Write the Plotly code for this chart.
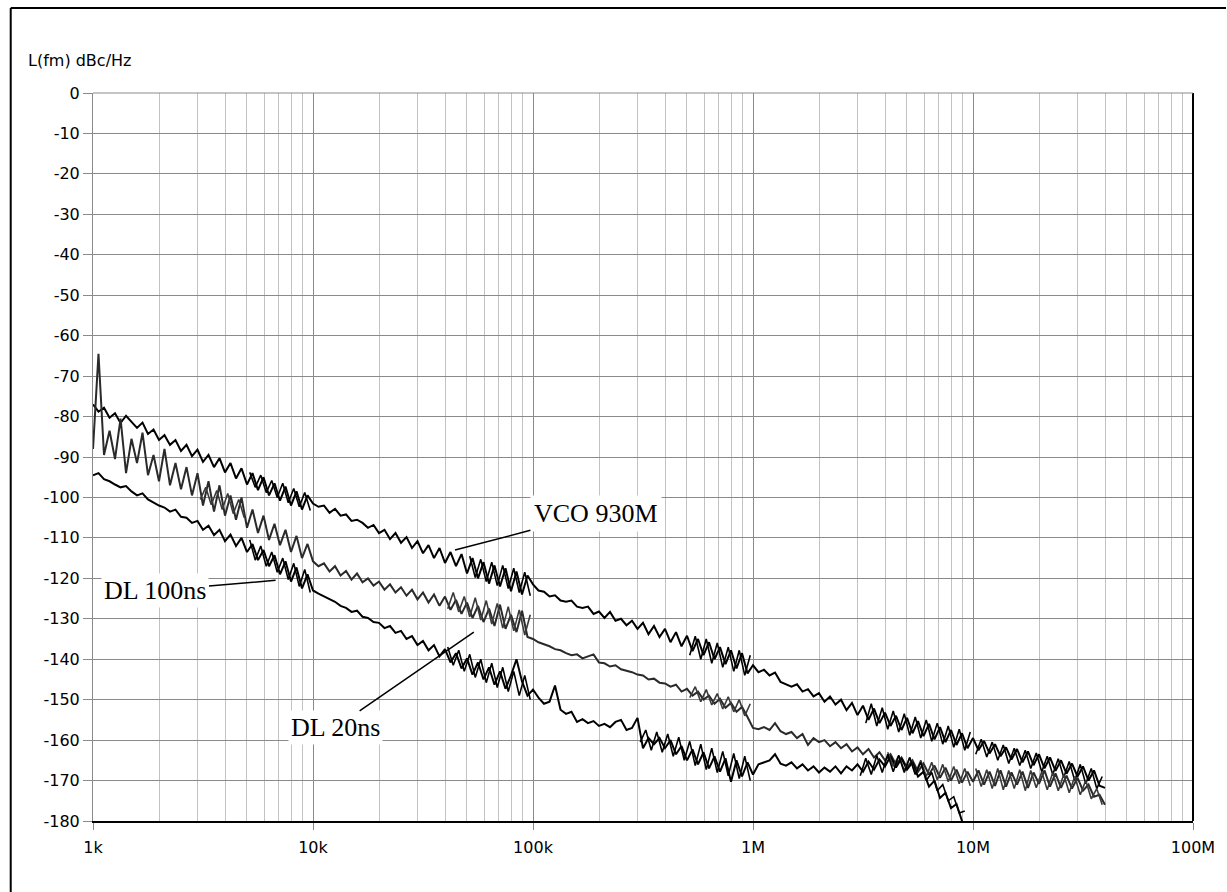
import plotly.graph_objects as go

# ---- data (frequency offset in kHz, phase noise in dBc/Hz) ----
freq_khz = [
    1.000, 1.059, 1.122, 1.189, 1.259, 1.334, 1.413, 1.496, 1.585, 1.679,
    1.778, 1.884, 1.995, 2.113, 2.239, 2.371, 2.512, 2.661, 2.818, 2.985,
    3.162, 3.350, 3.548, 3.758, 3.981, 4.217, 4.467, 4.732, 5.012, 5.309,
    5.623, 5.957, 6.310, 6.683, 7.079, 7.499, 7.943, 8.414, 8.913, 9.441,
    10.00, 10.59, 11.22, 11.89, 12.59, 13.34, 14.13, 14.96, 15.85, 16.79,
    17.78, 18.84, 19.95, 21.13, 22.39, 23.71, 25.12, 26.61, 28.18, 29.85,
    31.62, 33.50, 35.48, 37.58, 39.81, 42.17, 44.67, 47.32, 50.12, 53.09,
    56.23, 59.57, 63.10, 66.83, 70.79, 74.99, 79.43, 84.14, 89.13, 94.41,
    100.0, 105.9, 112.2, 118.9, 125.9, 133.4, 141.3, 149.6, 158.5, 167.9,
    177.8, 188.4, 199.5, 211.3, 223.9, 237.1, 251.2, 266.1, 281.8, 298.5,
    316.2, 335.0, 354.8, 375.8, 398.1, 421.7, 446.7, 473.2, 501.2, 530.9,
    562.3, 595.7, 631.0, 668.3, 707.9, 749.9, 794.3, 841.4, 891.3, 944.1,
    1000, 1059, 1122, 1189, 1259, 1334, 1413, 1496, 1585, 1679,
    1778, 1884, 1995, 2113, 2239, 2371, 2512, 2661, 2818, 2985,
    3162, 3350, 3548, 3758, 3981, 4217, 4467, 4732, 5012, 5309,
    5623, 5957, 6310, 6683, 7079, 7499, 7943, 8414, 8913, 9441,
    10000, 10590, 11220, 11890, 12590, 13340, 14130, 14960, 15850, 16790,
    17780, 18840, 19950, 21130, 22390, 23710, 25120, 26610, 28180, 29850,
    31620, 33500, 35480, 37580, 39810,
]

# in-between sweep points (used where the traces are densely noisy)
mid_khz = [
    1.029, 1.090, 1.155, 1.223, 1.296, 1.373, 1.454, 1.540, 1.631, 1.728,
    1.830, 1.939, 2.054, 2.175, 2.304, 2.441, 2.585, 2.738, 2.901, 3.073,
    3.255, 3.448, 3.652, 3.868, 4.097, 4.340, 4.597, 4.870, 5.158, 5.464,
    5.788, 6.131, 6.494, 6.879, 7.286, 7.718, 8.175, 8.660, 9.173, 9.716,
    10.29, 10.90, 11.55, 12.23, 12.96, 13.73, 14.54, 15.40, 16.31, 17.28,
    18.30, 19.39, 20.54, 21.75, 23.04, 24.41, 25.85, 27.38, 29.01, 30.73,
    32.55, 34.48, 36.52, 38.68, 40.97, 43.40, 45.97, 48.70, 51.58, 54.64,
    57.88, 61.31, 64.94, 68.79, 72.86, 77.18, 81.75, 86.60, 91.73, 97.16,
    102.9, 109.0, 115.5, 122.3, 129.6, 137.3, 145.4, 154.0, 163.1, 172.8,
    183.0, 193.9, 205.4, 217.5, 230.4, 244.1, 258.5, 273.8, 290.1, 307.3,
    325.5, 344.8, 365.2, 386.8, 409.7, 434.0, 459.7, 487.0, 515.8, 546.4,
    578.8, 613.1, 649.4, 687.9, 728.6, 771.8, 817.5, 866.0, 917.3, 971.6,
    1029, 1090, 1155, 1223, 1296, 1373, 1454, 1540, 1631, 1728,
    1830, 1939, 2054, 2175, 2304, 2441, 2585, 2738, 2901, 3073,
    3255, 3448, 3652, 3868, 4097, 4340, 4597, 4870, 5158, 5464,
    5788, 6131, 6494, 6879, 7286, 7718, 8175, 8660, 9173, 9716,
    10290, 10900, 11550, 12230, 12960, 13730, 14540, 15400, 16310, 17280,
    18300, 19390, 20540, 21750, 23040, 24410, 25850, 27380, 29010, 30730,
    32550, 34480, 36520, 38680,
]

vco_930m = [
    -77.0, -78.8, -77.8, -80.3, -79.2, -81.6, -79.8, -81.2, -82.8, -81.5,
    -84.3, -83.2, -85.8, -84.6, -87.0, -85.8, -88.5, -87.0, -89.8, -88.2,
    -91.2, -89.5, -92.5, -90.3, -93.8, -91.5, -95.3, -92.8, -96.8, -94.0,
    -98.2, -95.0, -99.5, -96.5, -100.8, -97.3, -102.0, -98.5, -103.0, -99.5,
    -101.5, -102.3, -102.0, -103.8, -102.8, -104.5, -104.2, -105.8, -105.5, -106.3,
    -107.5, -106.8, -108.8, -108.0, -110.3, -108.8, -111.2, -109.8, -112.5, -110.8,
    -113.8, -111.8, -115.0, -112.5, -116.2, -113.5, -117.0, -114.0, -118.8, -115.0,
    -120.0, -116.0, -121.3, -116.8, -122.0, -117.5, -123.2, -118.3, -124.0, -119.3,
    -121.5, -123.0, -123.3, -124.5, -124.2, -125.5, -125.8, -125.5, -127.0, -127.3,
    -127.0, -128.8, -128.2, -129.8, -128.3, -130.5, -130.0, -131.6, -130.5, -132.5,
    -131.0, -133.8, -131.8, -134.5, -132.5, -135.8, -133.3, -136.8, -134.2, -138.0,
    -135.0, -139.0, -135.8, -140.0, -137.0, -141.2, -137.8, -142.3, -138.5, -143.5,
    -141.5, -143.2, -142.6, -144.0, -143.3, -145.6, -146.2, -146.8, -146.2, -148.0,
    -147.4, -149.2, -148.4, -150.5, -149.2, -151.2, -150.0, -152.6, -150.8, -153.8,
    -151.5, -155.0, -152.2, -155.8, -153.2, -156.5, -154.0, -157.5, -154.5, -158.3,
    -155.3, -159.0, -156.0, -159.8, -156.8, -160.5, -157.5, -161.2, -158.3, -162.0,
    -159.5, -162.5, -160.2, -163.3, -161.0, -164.0, -161.8, -164.8, -162.2, -165.5,
    -162.8, -166.2, -163.5, -167.0, -164.3, -167.6, -165.0, -168.3, -165.8, -169.0,
    -166.5, -170.0, -167.5, -171.3, -171.8,
]

dl_20ns = [
    -88.0, -64.5, -89.5, -83.5, -90.5, -80.5, -94.0, -85.5, -91.5, -84.0,
    -94.5, -89.5, -96.0, -88.0, -97.0, -91.5, -98.0, -92.5, -99.5, -94.0,
    -102.0, -96.0, -103.5, -97.0, -104.5, -99.5, -105.5, -100.0, -107.5, -103.0,
    -108.8, -104.5, -110.5, -106.5, -111.8, -108.0, -113.5, -109.5, -115.0, -111.5,
    -115.8, -117.0, -116.3, -118.3, -117.0, -119.3, -118.2, -120.3, -118.8, -121.0,
    -120.0, -121.8, -120.8, -122.8, -121.5, -123.5, -122.2, -124.3, -122.8, -125.2,
    -123.5, -126.0, -124.0, -126.8, -124.5, -127.8, -125.3, -128.8, -126.0, -129.8,
    -126.8, -130.8, -127.5, -131.8, -126.5, -132.5, -129.0, -133.3, -128.0, -134.5,
    -135.0, -135.8, -136.3, -136.8, -137.5, -137.8, -138.5, -139.0, -138.8, -139.8,
    -139.3, -138.8, -140.8, -141.0, -141.8, -141.5, -142.5, -142.8, -143.2, -143.8,
    -144.0, -145.0, -144.8, -145.8, -146.0, -146.8, -146.3, -148.0, -147.3, -149.0,
    -148.0, -150.0, -149.0, -151.0, -149.8, -152.0, -150.8, -153.0, -151.8, -154.3,
    -157.0, -157.3, -156.8, -157.5, -155.8, -157.8, -158.5, -158.0, -159.5, -158.5,
    -161.2, -159.5, -160.5, -160.0, -161.5, -160.5, -162.0, -161.0, -162.8, -161.8,
    -163.5, -162.2, -164.3, -163.0, -165.0, -163.5, -166.0, -164.3, -166.8, -165.0,
    -167.8, -165.8, -168.5, -166.3, -169.3, -166.8, -170.0, -167.3, -170.5, -167.8,
    -170.3, -167.5, -171.0, -167.8, -171.3, -167.5, -171.5, -168.0, -171.0, -167.8,
    -171.8, -168.0, -170.8, -167.5, -171.5, -168.2, -171.8, -168.8, -172.0, -169.3,
    -172.5, -171.0, -174.0, -173.5, -176.0,
]

dl_100ns = [
    -94.5, -94.0, -95.5, -96.0, -96.8, -97.5, -97.2, -98.5, -99.5, -99.0,
    -100.5, -101.3, -102.0, -102.5, -103.5, -103.0, -104.8, -105.0, -106.3, -105.8,
    -108.0, -107.0, -109.3, -108.0, -110.8, -109.2, -112.0, -110.0, -113.5, -111.5,
    -115.5, -113.0, -117.0, -114.3, -119.0, -115.8, -120.8, -117.3, -122.5, -119.0,
    -123.0, -123.8, -124.5, -125.3, -125.8, -126.8, -127.3, -128.3, -128.0, -129.5,
    -129.8, -130.8, -131.0, -132.3, -131.8, -133.5, -133.0, -135.0, -134.3, -136.5,
    -135.5, -137.8, -136.5, -139.3, -137.5, -140.8, -138.5, -142.3, -139.8, -143.8,
    -140.8, -145.0, -142.0, -146.3, -143.0, -147.3, -144.0, -140.0, -145.5, -149.0,
    -147.5, -149.5, -151.0, -150.5, -146.5, -152.5, -153.5, -153.0, -155.5, -154.8,
    -155.8, -155.3, -156.5, -156.0, -156.8, -155.5, -155.0, -157.5, -157.0, -154.5,
    -162.0, -159.5, -161.0, -159.5, -162.0, -160.0, -163.5, -161.5, -165.0, -162.3,
    -166.0, -163.0, -167.0, -164.0, -167.8, -164.5, -170.3, -165.0, -169.0, -165.5,
    -168.5, -166.0, -165.5, -165.0, -163.5, -165.8, -166.3, -165.5, -167.0, -166.0,
    -167.5, -166.5, -168.0, -166.8, -167.8, -166.5, -168.2, -166.5, -167.5, -166.0,
    -167.8, -165.3, -167.3, -164.8, -166.5, -164.0, -166.8, -164.5, -167.3, -165.5,
    -169.0, -167.8, -171.5, -170.0, -174.3, -173.0, -176.8, -175.8, -180.0, -182.0,
]

# dense noisy stretches: (first index into mid_khz, values)
vco_dense_5k = [-93.8, -97.5, -94.5, -98.8, -95.8, -100.0, -96.5, -101.3, -97.8, -102.3, -98.8, -103.2]
vco_dense_50k = [-114.5, -119.8, -115.3, -120.8, -116.0, -121.8, -116.8, -122.5, -117.5, -123.5, -118.5, -124.3]
vco_dense_500k = [-139.0, -134.3, -140.0, -135.0, -141.0, -136.0, -142.0, -137.0, -143.0, -137.8, -144.0, -139.0]
vco_dense_3m = [-155.8, -151.0, -156.5, -152.0, -157.3, -152.8, -158.0, -153.5, -158.8, -154.3,
                -159.5, -155.0, -160.3, -155.8, -161.0, -156.5, -161.8, -157.3, -162.5, -158.0]
vco_dense_10m = [-163.5, -159.8, -164.2, -160.5, -165.0, -161.2, -165.8, -162.0, -166.3, -162.5,
                 -167.0, -163.2, -167.8, -164.0, -168.5, -164.6, -169.2, -165.3, -170.0, -166.0,
                 -170.8, -167.0, -172.0, -169.0]
dl20_dense_3k = [-100.5, -97.5, -101.8, -98.3, -103.0, -99.0, -104.0, -100.5, -105.0]
dl20_dense_40k = [-127.5, -123.5, -128.3, -124.5, -129.5, -124.8, -130.3, -125.5,
                  -131.3, -126.2, -132.3, -127.0, -133.0, -127.8, -134.0, -129.0]
dl20_dense_500k = [-149.5, -146.8, -150.5, -147.5, -151.3, -148.5, -152.3, -149.3, -153.0, -150.0, -154.0, -151.0]
dl20_dense_4m = [-163.0, -166.5, -163.8, -167.5, -164.3, -168.3, -165.0, -169.0,
                 -165.5, -169.8, -166.0, -170.3, -166.5, -170.8, -167.0, -171.3]
dl20_dense_10m = [-167.0, -171.5, -167.3, -172.0, -167.0, -172.3, -167.5, -172.0, -167.3, -172.5,
                  -167.5, -171.8, -167.8, -172.3, -168.0, -172.5, -168.5, -173.0, -169.0, -173.5,
                  -170.0, -174.5, -172.0, -176.0]
dl100_dense_5k = [-110.5, -115.5, -112.0, -117.0, -113.5, -118.5, -115.0, -120.3, -116.3, -122.0, -117.8, -123.5]
dl100_dense_40k = [-137.0, -141.5, -137.8, -143.0, -138.8, -144.5, -140.0, -145.8,
                   -141.0, -147.0, -142.0, -148.0, -143.0, -149.0, -144.0, -150.0]
dl100_dense_300k = [-160.5, -157.5, -162.5, -158.0, -163.0, -158.5, -164.0, -159.3, -165.0, -160.3,
                    -166.3, -161.0, -167.3, -162.0, -168.0, -162.8, -168.8, -163.3, -169.5, -164.0, -170.0]
dl100_dense_3m = [-168.8, -164.5, -168.5, -163.8, -168.0, -163.5, -167.8, -163.8, -168.0, -164.3,
                  -168.5, -165.5, -170.0, -168.0, -172.5, -171.0, -175.0, -174.0, -178.0, -177.5]

x_tick_vals = [1e3, 1e4, 1e5, 1e6, 1e7, 1e8]
x_tick_text = ["1k", "10k", "100k", "1M", "10M", "100M"]
x_minor_vals = [
    2e3, 3e3, 4e3, 5e3, 6e3, 7e3, 8e3, 9e3,
    2e4, 3e4, 4e4, 5e4, 6e4, 7e4, 8e4, 9e4,
    2e5, 3e5, 4e5, 5e5, 6e5, 7e5, 8e5, 9e5,
    2e6, 3e6, 4e6, 5e6, 6e6, 7e6, 8e6, 9e6,
    2e7, 3e7, 4e7, 5e7, 6e7, 7e7, 8e7, 9e7,
]
y_tick_vals = [0, -10, -20, -30, -40, -50, -60, -70, -80, -90,
               -100, -110, -120, -130, -140, -150, -160, -170, -180]
y_tick_text = ["0", "-10", "-20", "-30", "-40", "-50", "-60", "-70", "-80", "-90",
               "-100", "-110", "-120", "-130", "-140", "-150", "-160", "-170", "-180"]

freq_hz = [f * 1000 for f in freq_khz]
mid_hz = [f * 1000 for f in mid_khz]

VCO_COL, DL20_COL, DL100_COL = "#000000", "#2a2a2a", "#000000"

fig = go.Figure()
for name, vals, col in [("VCO 930M", vco_930m, VCO_COL),
                        ("DL 20ns", dl_20ns, DL20_COL),
                        ("DL 100ns", dl_100ns, DL100_COL)]:
    fig.add_trace(go.Scatter(
        x=freq_hz[:len(vals)], y=vals, mode="lines", name=name,
        line=dict(color=col, width=2.0), hoverinfo="skip"))

dense_parts = [
    (28, vco_dense_5k, VCO_COL), (68, vco_dense_50k, VCO_COL), (108, vco_dense_500k, VCO_COL),
    (140, vco_dense_3m, VCO_COL), (160, vco_dense_10m, VCO_COL),
    (19, dl20_dense_3k, "#3a3a3a"), (64, dl20_dense_40k, "#3a3a3a"), (108, dl20_dense_500k, "#3a3a3a"),
    (144, dl20_dense_4m, "#3a3a3a"), (160, dl20_dense_10m, "#3a3a3a"),
    (28, dl100_dense_5k, DL100_COL), (64, dl100_dense_40k, DL100_COL),
    (99, dl100_dense_300k, DL100_COL), (139, dl100_dense_3m, DL100_COL),
]
for start, vals, col in dense_parts:
    fig.add_trace(go.Scatter(
        x=mid_hz[start:start + len(vals)], y=vals, mode="lines",
        line=dict(color=col, width=1.6), hoverinfo="skip", showlegend=False))

tick_font = dict(family="DejaVu Sans, Arial, sans-serif", size=16, color="#000000")
label_font = dict(family="Liberation Serif, Times New Roman, serif", size=26, color="#000000")

fig.update_layout(
    width=1227, height=892, autosize=False,
    margin=dict(l=93, r=25, t=93, b=71),
    paper_bgcolor="white", plot_bgcolor="white",
    showlegend=False,
    xaxis=dict(
        type="log", range=[3, 8],
        tickmode="array", tickvals=x_tick_vals, ticktext=x_tick_text,
        showgrid=True, gridcolor="#8a8a8a", gridwidth=1,
        ticks="outside", ticklen=7, tickcolor="#8a8a8a",
        showline=True, linecolor="black", linewidth=2, zeroline=False,
        tickfont=tick_font, ticklabelstandoff=4,
        minor=dict(tickmode="array", tickvals=x_minor_vals, showgrid=True,
                   gridcolor="#c2c2c2", gridwidth=1, ticks=""),
    ),
    yaxis=dict(
        range=[-180, 0],
        tickmode="array", tickvals=y_tick_vals, ticktext=y_tick_text,
        showgrid=True, gridcolor="#8a8a8a", gridwidth=1,
        ticks="outside", ticklen=9, tickcolor="#8a8a8a",
        showline=True, linecolor="#8a8a8a", linewidth=1, zeroline=False,
        tickfont=tick_font,
    ),
    shapes=[
        dict(type="line", xref="paper", yref="paper", x0=1, x1=1, y0=0, y1=1,
             line=dict(color="black", width=2)),
        dict(type="line", xref="paper", yref="paper", x0=0, x1=1, y0=1, y1=1,
             line=dict(color="#8a8a8a", width=1)),
        dict(type="line", xref="paper", yref="paper", x0=-0.0748, x1=-0.0748,
             y0=-0.1, y1=1.1168, line=dict(color="black", width=2)),
        dict(type="line", xref="paper", yref="paper", x0=-0.0748, x1=1.03,
             y0=1.1168, y1=1.1168, line=dict(color="black", width=2)),
    ],
    annotations=[
        dict(xref="paper", yref="paper", x=-0.0613, y=1.044, text="L(fm) dBc/Hz",
             showarrow=False, xanchor="left", yanchor="middle", font=tick_font),
        dict(xref="x", yref="y", axref="x", ayref="y",
             x=4.6456, y=-113.0, ax=5.286, ay=-103.9,
             text="VCO 930M", showarrow=True, arrowhead=0, arrowwidth=1.5,
             arrowcolor="black", font=label_font, bgcolor="white", borderpad=3),
        dict(xref="x", yref="y", axref="x", ayref="y",
             x=3.83, y=-120.5, ax=3.284, ay=-123.0,
             text="DL 100ns", showarrow=True, arrowhead=0, arrowwidth=1.5,
             arrowcolor="black", font=label_font, bgcolor="white", borderpad=2),
        dict(xref="x", yref="y", axref="x", ayref="y",
             x=4.731, y=-133.3, ax=4.10, ay=-157.0,
             text="DL 20ns", showarrow=True, arrowhead=0, arrowwidth=1.5,
             arrowcolor="black", font=label_font, bgcolor="white", borderpad=2),
    ],
)

fig.write_html("out.html")
